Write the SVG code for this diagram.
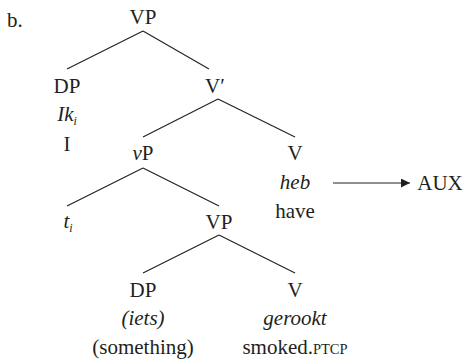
<svg xmlns="http://www.w3.org/2000/svg" width="466" height="363" viewBox="0 0 466 363">
  <style>
    text { font-family: "Liberation Serif", "Times New Roman", serif; font-size: 21px; fill: #231f20; text-anchor: middle; }
    .it { font-style: italic; }
    .sub { font-size: 12px; font-style: italic; }
    .sc { font-size: 14.5px; }
    .edge { stroke: #231f20; stroke-width: 1.1; fill: none; }
  </style>
  <defs>
    <marker id="head" viewBox="0 0 10 10" refX="10" refY="5" markerWidth="9" markerHeight="9" markerUnits="userSpaceOnUse" orient="auto">
      <path d="M0,0 L10,5 L0,10 Z" fill="#231f20"/>
    </marker>
  </defs>
  <rect width="466" height="363" fill="#ffffff"/>

  <text x="7" y="27" style="text-anchor:start">b.</text>

  <g id="connectors">
    <line class="edge" x1="143" y1="31" x2="67" y2="69"/>
    <line class="edge" x1="143" y1="31" x2="209" y2="69"/>
    <line class="edge" x1="218" y1="99" x2="143" y2="137"/>
    <line class="edge" x1="218" y1="99" x2="295" y2="137"/>
    <line class="edge" x1="143" y1="168" x2="67" y2="206"/>
    <line class="edge" x1="143" y1="168" x2="219" y2="206"/>
    <line class="edge" x1="219" y1="235" x2="143" y2="273"/>
    <line class="edge" x1="219" y1="235" x2="295" y2="273"/>
    <line class="edge" x1="333" y1="183" x2="410" y2="183" marker-end="url(#head)"/>
  </g>

  <g id="vp-top"><text x="143" y="24">VP</text></g>

  <g id="dp-ik">
    <text x="67" y="93">DP</text>
    <text x="67" y="121"><tspan class="it">Ik</tspan><tspan class="sub" dy="4">i</tspan></text>
    <text x="67" y="151">I</text>
  </g>

  <g id="v-bar"><text x="215" y="93">V′</text></g>

  <g id="vP"><text x="143" y="160"><tspan class="it">ν</tspan>P</text></g>

  <g id="v-heb">
    <text x="295" y="160">V</text>
    <text x="295" y="189" class="it">heb</text>
    <text x="295" y="218">have</text>
  </g>

  <g id="aux"><text x="440" y="190">AUX</text></g>

  <g id="trace"><text x="68" y="228"><tspan class="it">t</tspan><tspan class="sub" dy="4">i</tspan></text></g>

  <g id="vp-low"><text x="219" y="229">VP</text></g>

  <g id="dp-iets">
    <text x="143" y="297">DP</text>
    <text x="143" y="325" class="it">(iets)</text>
    <text x="143" y="354">(something)</text>
  </g>

  <g id="v-gerookt">
    <text x="295" y="297">V</text>
    <text x="295" y="325" class="it">gerookt</text>
    <text x="295" y="354">smoked.<tspan class="sc">PTCP</tspan></text>
  </g>
</svg>
